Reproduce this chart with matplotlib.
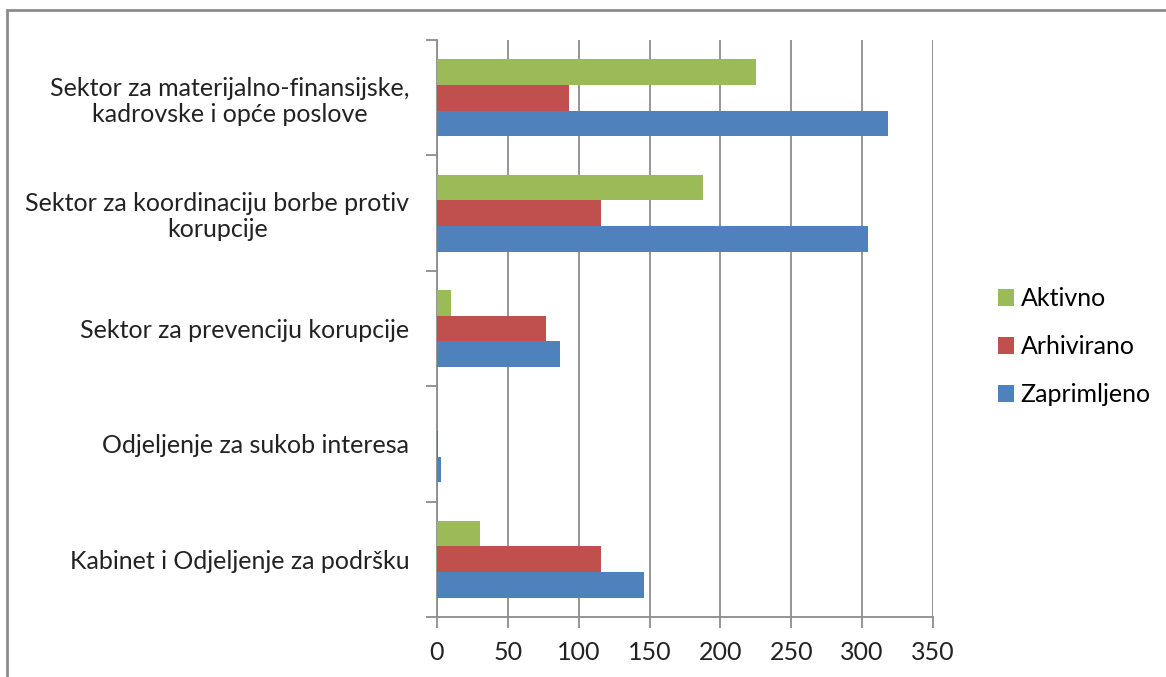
import numpy as np
import matplotlib
matplotlib.use('Agg')
import matplotlib.pyplot as plt
from matplotlib.patches import Rectangle

# Config
CATEGORIES = ['Kabinet i Odjeljenje za podršku',
              'Odjeljenje za sukob interesa',
              'Sektor za prevenciju korupcije',
              'Sektor za koordinaciju borbe protiv\nkorupcije',
              'Sektor za materijalno-finansijske,\nkadrovske i opće poslove']
ZAPRIMLJENO = [146, 3, 87, 304, 318]
ARHIVIRANO = [116, 1, 77, 116, 93]
AKTIVNO = [30, 0, 10, 188, 225]
SERIES = ['Zaprimljeno', 'Arhivirano', 'Aktivno']
COLORS = ['#4F81BD', '#C0504D', '#9BBB59']
X_TICKS = [0, 50, 100, 150, 200, 250, 300, 350]

GRAY = '#8C8C8C'
plt.rcParams['font.family'] = ['Lato', 'DejaVu Sans']

fig = plt.figure(figsize=(11.66, 6.77), dpi=100)
ax = fig.add_axes([437 / 1166, 1 - 617 / 677, (933 - 437) / 1166, (617 - 40) / 677])

y = np.arange(len(CATEGORIES))
h = 1 / 4.5
values = [ZAPRIMLJENO, ARHIVIRANO, AKTIVNO]
for i, (name, vals, c) in enumerate(zip(SERIES, values, COLORS)):
    ax.barh(y + (i - 1) * h, vals, height=h, color=c, label=name,
            edgecolor='none', zorder=3)

ax.set_xlim(0, 350)
ax.set_ylim(-0.5, len(CATEGORIES) - 0.5)
ax.set_xticks(X_TICKS)
ax.xaxis.grid(True, color=GRAY, linewidth=1.3, zorder=0)
ax.tick_params(axis='x', length=8, width=1.3, color=GRAY, labelsize=18, pad=9,
               labelcolor='#222222')

# category labels at centers, tick marks at boundaries
ax.set_yticks(y)
ax.set_yticklabels(CATEGORIES)
ax.set_yticks(np.arange(-0.5, len(CATEGORIES)), minor=True)
ax.tick_params(axis='y', which='major', length=0, labelsize=18, pad=20,
               labelcolor='#222222')
ax.tick_params(axis='y', which='minor', length=8, width=1.3, color=GRAY)
for t in ax.get_yticklabels():
    t.set_multialignment('center')
    t.set_linespacing(1.15)

for s in ['top', 'right']:
    ax.spines[s].set_visible(False)
for s in ['left', 'bottom']:
    ax.spines[s].set_color(GRAY)
    ax.spines[s].set_linewidth(1.3)

handles, labels = ax.get_legend_handles_labels()
ax.legend(handles[::-1], labels[::-1], loc='center left',
          bbox_to_anchor=(998 / 1166, 1 - 347 / 677), bbox_transform=fig.transFigure,
          frameon=False, fontsize=18, handlelength=0.65, handleheight=0.65,
          handletextpad=0.25, labelspacing=1.0, borderaxespad=0, borderpad=0)

# chart area border
fig.add_artist(Rectangle((7 / 1166, -0.1), 1.2, 1.1 - 10 / 677, transform=fig.transFigure,
                         fill=False, edgecolor=GRAY, linewidth=2, clip_on=False))

fig.savefig('out.png', dpi=100)
